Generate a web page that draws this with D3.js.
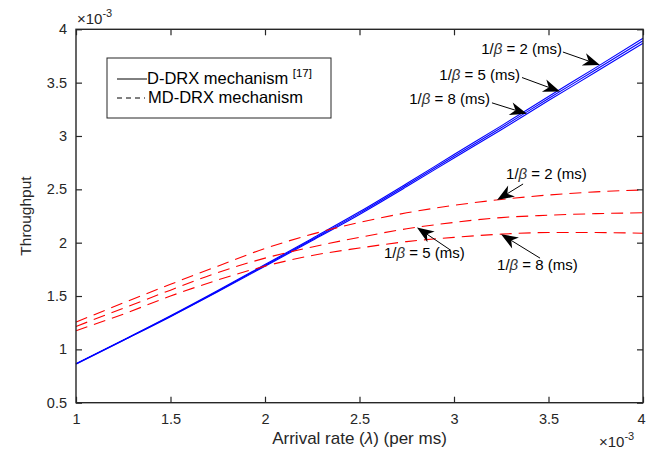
<!DOCTYPE html>
<html>
<head>
<meta charset="utf-8">
<script src="https://cdn.jsdelivr.net/npm/d3@7"></script>
<style>
  html, body { margin: 0; padding: 0; background: #fff; }
  svg { display: block; font-family: "Liberation Sans", Arial, Helvetica, sans-serif; }
</style>
</head>
<body>
<svg id="chart" width="646" height="456"></svg>
<script>
// Arrival rate λ (×10^-3 per ms)
const lambda = [1, 1.25, 1.5, 1.75, 2, 2.25, 2.5, 2.75, 3, 3.25, 3.5, 3.75, 4];

// D-DRX mechanism [17] throughput (×10^-3), one series per 1/β
const ddrx2 = [0.866, 1.087, 1.314, 1.551, 1.795, 2.040, 2.289, 2.554, 2.826, 3.095, 3.370, 3.641, 3.916];
const ddrx5 = [0.864, 1.085, 1.310, 1.545, 1.787, 2.030, 2.277, 2.540, 2.810, 3.077, 3.351, 3.620, 3.893];
const ddrx8 = [0.862, 1.083, 1.306, 1.539, 1.779, 2.020, 2.265, 2.526, 2.794, 3.059, 3.332, 3.599, 3.870];

// MD-DRX mechanism throughput (×10^-3)
const mddrx2 = [1.255, 1.435, 1.610, 1.780, 1.945, 2.080, 2.190, 2.280, 2.350, 2.405, 2.447, 2.476, 2.494];
const mddrx5 = [1.215, 1.385, 1.555, 1.720, 1.855, 1.960, 2.050, 2.130, 2.190, 2.235, 2.257, 2.272, 2.280];
const mddrx8 = [1.175, 1.330, 1.500, 1.650, 1.780, 1.880, 1.950, 2.010, 2.050, 2.080, 2.095, 2.095, 2.088];

const xTicks = [1, 1.5, 2, 2.5, 3, 3.5, 4];
const xTickLabels = ["1", "1.5", "2", "2.5", "3", "3.5", "4"];
const yTicks = [0.5, 1, 1.5, 2, 2.5, 3, 3.5, 4];
const yTickLabels = ["0.5", "1", "1.5", "2", "2.5", "3", "3.5", "4"];

const legendLabels = ["D-DRX mechanism", "MD-DRX mechanism"];
const legendCitation = "[17]";

// Callouts: which curve, the λ the arrow points at
const callouts = [
  { series: "ddrx2",  at: 3.772, beta: "2" },
  { series: "ddrx5",  at: 3.561, beta: "5" },
  { series: "ddrx8",  at: 3.386, beta: "8" },
  { series: "mddrx2", at: 3.228, beta: "2" },
  { series: "mddrx5", at: 2.804, beta: "5" },
  { series: "mddrx8", at: 3.249, beta: "8" }
];

const seriesData = { ddrx2, ddrx5, ddrx8, mddrx2, mddrx5, mddrx8 };

// ---- layout ----
const plot = { left: 76, right: 643, top: 29.3, bottom: 402.7 };
const axisColor = "#262626";

const svg = d3.select("#chart");

const x = d3.scaleLinear().domain([1, 4]).range([plot.left, plot.right]);
const y = d3.scaleLinear().domain([0.5, 4]).range([plot.bottom, plot.top]);

// ---- curves ----
const line = d3.line()
  .x((d, i) => x(lambda[i]))
  .y(d => y(d))
  .curve(d3.curveMonotoneX);

const curves = svg.append("g");
[ddrx2, ddrx5, ddrx8].forEach(s => {
  curves.append("path").attr("d", line(s))
    .attr("fill", "none").attr("stroke", "#0000ff").attr("stroke-width", 1.1);
});
[mddrx2, mddrx5, mddrx8].forEach(s => {
  curves.append("path").attr("d", line(s))
    .attr("fill", "none").attr("stroke", "#ff0000").attr("stroke-width", 1.1)
    .attr("stroke-dasharray", "12,7");
});

// ---- axes (ticks point inward on all four sides) ----
function styleAxis(g) {
  g.select(".domain").remove();
  g.selectAll(".tick line").attr("stroke", axisColor).attr("stroke-width", 1.2);
  g.selectAll(".tick text").attr("fill", axisColor)
    .style("font-size", "14.5px").style("font-family", "'Liberation Sans', Arial, sans-serif");
}

const xAxisG = svg.append("g").attr("transform", `translate(0,${plot.bottom})`)
  .call(d3.axisBottom(x).tickValues(xTicks).tickFormat((d, i) => xTickLabels[i]).tickSize(-6).tickPadding(11))
  .call(styleAxis);
// keep the last label inside the canvas edge
xAxisG.selectAll(".tick text").filter(d => d === xTicks[xTicks.length - 1]).attr("dx", -2);

svg.append("g").attr("transform", `translate(0,${plot.top})`)
  .call(d3.axisTop(x).tickValues(xTicks).tickFormat("").tickSize(-6))
  .call(styleAxis);
svg.append("g").attr("transform", `translate(${plot.left},0)`)
  .call(d3.axisLeft(y).tickValues(yTicks).tickFormat((d, i) => yTickLabels[i]).tickSize(-6).tickPadding(9))
  .call(styleAxis);
svg.append("g").attr("transform", `translate(${plot.right},0)`)
  .call(d3.axisRight(y).tickValues(yTicks).tickFormat("").tickSize(-6))
  .call(styleAxis);

// axes box
svg.append("rect")
  .attr("x", plot.left).attr("y", plot.top)
  .attr("width", plot.right - plot.left).attr("height", plot.bottom - plot.top)
  .attr("fill", "none").attr("stroke", axisColor).attr("stroke-width", 1.4);

// ---- exponent multipliers ----
function exponent(xp, yp) {
  const t = svg.append("text").attr("x", xp).attr("y", yp)
    .attr("fill", axisColor).style("font-size", "15px");
  t.append("tspan").text("×10");
  t.append("tspan").attr("dy", -7).style("font-size", "11px").text("-3");
}
exponent(77, 24);
exponent(599, 447);

// ---- axis titles ----
const xTitle = svg.append("text")
  .attr("x", (plot.left + plot.right) / 2).attr("y", 444)
  .attr("text-anchor", "middle").attr("fill", axisColor).style("font-size", "17px");
xTitle.append("tspan").text("Arrival rate (");
xTitle.append("tspan").style("font-style", "italic").text("λ");
xTitle.append("tspan").text(") (per ms)");

svg.append("text")
  .attr("transform", `translate(31,${(plot.top + plot.bottom) / 2}) rotate(-90)`)
  .attr("text-anchor", "middle").attr("fill", axisColor).style("font-size", "15.5px")
  .text("Throughput");

// ---- legend ----
const lg = svg.append("g").attr("transform", "translate(107,58)");
lg.append("rect").attr("width", 224).attr("height", 60)
  .attr("fill", "#fff").attr("stroke", axisColor).attr("stroke-width", 1);
lg.append("line").attr("x1", 10).attr("x2", 40).attr("y1", 21).attr("y2", 21)
  .attr("stroke", "#000").attr("stroke-width", 1);
lg.append("line").attr("x1", 10).attr("x2", 38).attr("y1", 40).attr("y2", 40)
  .attr("stroke", "#000").attr("stroke-width", 1).attr("stroke-dasharray", "5,4");
const l1 = lg.append("text").attr("x", 40).attr("y", 26).attr("fill", "#000").style("font-size", "16.5px");
l1.append("tspan").text(legendLabels[0] + " ");
l1.append("tspan").attr("dy", -7).style("font-size", "11.5px").text(legendCitation);
lg.append("text").attr("x", 41).attr("y", 45).attr("fill", "#000").style("font-size", "16.5px")
  .text(legendLabels[1]);

// ---- callout arrows ----
// label offset (from arrow tip), tail offset, anchor
const calloutLayout = {
  ddrx2:  { tail: [-37, -13], label: [-38, -11], anchor: "end" },
  ddrx5:  { tail: [-38, -14], label: [-40, -12], anchor: "end" },
  ddrx8:  { tail: [-35, -11], label: [-37, -10], anchor: "end" },
  mddrx2: { tail: [26, -16],  label: [9, -21],   anchor: "start" },
  mddrx5: { tail: [34, 23],   label: [-33, 31],  anchor: "start" },
  mddrx8: { tail: [39, 24],   label: [-4, 36],   anchor: "start" }
};

const interp = (s, v) => d3.scaleLinear().domain(lambda).range(s)(v);
const ann = svg.append("g");
callouts.forEach(c => {
  const tx = x(c.at), ty = y(interp(seriesData[c.series], c.at));
  const L = calloutLayout[c.series];
  const sx = tx + L.tail[0], sy = ty + L.tail[1];
  const ang = Math.atan2(ty - sy, tx - sx);
  const headLen = 17, halfW = 6.5, notch = 5;
  const bx = tx - Math.cos(ang) * (headLen - notch), by = ty - Math.sin(ang) * (headLen - notch);
  ann.append("line").attr("x1", sx).attr("y1", sy).attr("x2", bx).attr("y2", by)
    .attr("stroke", "#000").attr("stroke-width", 1);
  const head = d3.path();
  head.moveTo(0, 0);
  head.lineTo(-headLen, -halfW);
  head.lineTo(-headLen + notch, 0);
  head.lineTo(-headLen, halfW);
  head.closePath();
  ann.append("path").attr("d", head.toString())
    .attr("transform", `translate(${tx},${ty}) rotate(${ang * 180 / Math.PI})`)
    .attr("fill", "#000");
  const t = ann.append("text").attr("x", tx + L.label[0]).attr("y", ty + L.label[1])
    .attr("text-anchor", L.anchor).attr("fill", "#000").style("font-size", "15px");
  t.append("tspan").text("1/");
  t.append("tspan").style("font-style", "italic").attr("fill", "#333").text("β");
  t.append("tspan").text(` = ${c.beta} (ms)`);
});
</script>
</body>
</html>
